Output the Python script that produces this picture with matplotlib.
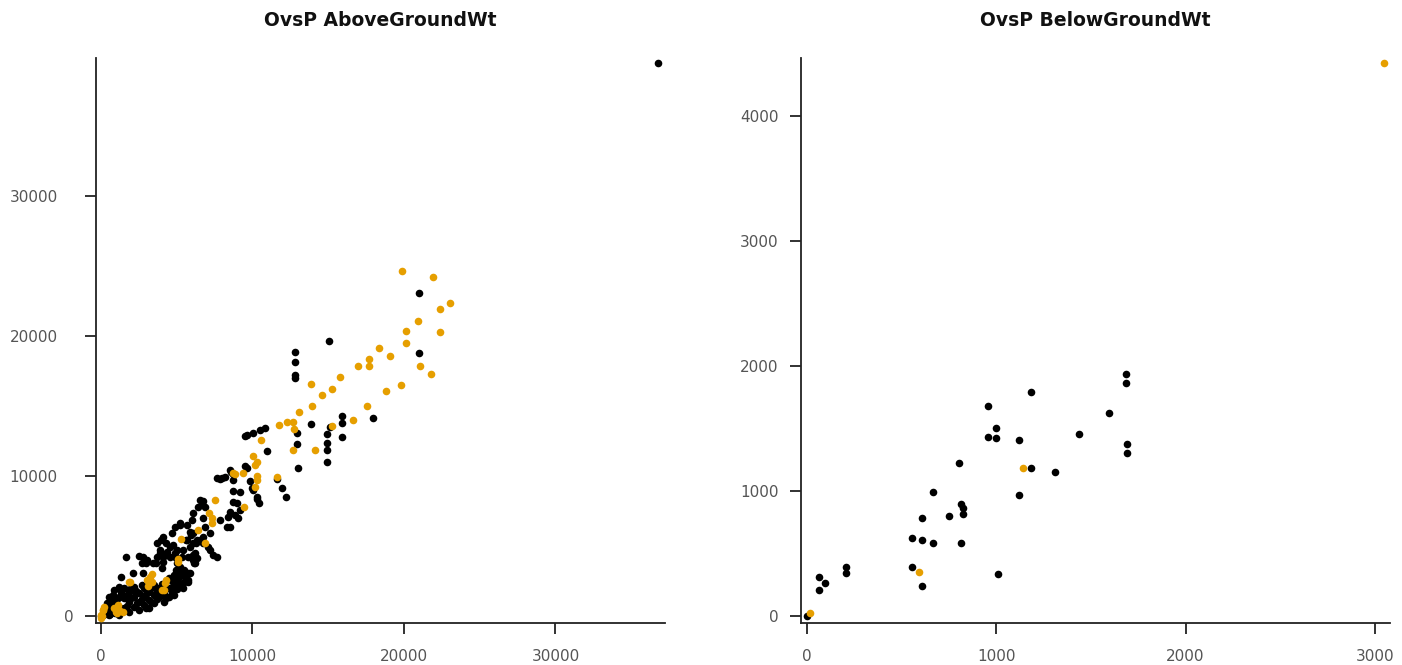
import matplotlib
matplotlib.use("Agg")
import matplotlib.pyplot as plt
from matplotlib.transforms import ScaledTranslation

# ---------------- data ----------------
# Left panel: OvsP AboveGroundWt
above_black_x = [36760, 21010, 15070, 12826, 12826, 12826, 12826, 21010, 17972, 15906, 15906,
                 13880, 12914, 12914, 13022, 14936, 14936, 14936, 14936, 15114, 10976, 9616,
                 10052, 10494, 10824, 9504, 11926, 12210, 11596, 8514, 8732, 10052, 10274,
                 7854, 8184, 8560, 8732, 9504, 9834, 9946, 8692, 9174, 6534, 6752, 8732,
                 10274, 10450, 9616, 6646, 6864, 6424, 8514, 8844, 8404, 7854, 8294, 8514,
                 9174, 9062, 6094, 5986, 5700, 5214, 6752, 6864, 6752, 6094, 6314, 5874,
                 5436, 4554, 4336, 3894, 3674, 4114, 4994, 4884, 5326, 5766, 6204, 6314,
                 7194, 7634, 7414, 1650, 1320, 2528, 2092, 3960, 4290, 4732, 5610, 5940,
                 6270, 6712, 6160, 6050, 5722, 5722, 3630, 4070, 2970, 2752, 4950, 4730,
                 5170, 5390, 5874, 5766, 6094, 6204, 5214, 7634, 7964, 8954, 6534, 7194,
                 7084, 6094, 5874, 5654, 4884, 4664, 4114, 3674, 3894, 2792, 3014, 2686,
                 2132, 3454, 4004, 4994, 5214, 4554, 4884, 15906,
                 550, 550, 550, 880, 880, 880, 1210, 1210, 1210, 1210, 1540, 1540, 1540,
                 1870, 1870, 1870, 2200, 2200, 2200, 2530, 2530, 2530, 2860, 2860, 2860,
                 3190, 3190, 3190, 3520, 3520, 3520, 3850, 3850, 4180, 4180, 4510, 4510,
                 4510, 4840, 4840, 4840, 5170, 5170, 5500, 5500, 0, 150, 300,
                 700, 1000, 1300, 1400, 1700, 1700, 2000, 2000, 2300, 2400, 2700, 2700,
                 3000, 3000, 3300, 3300, 3700, 3700, 4000, 4000, 4300, 4300, 4700, 4700,
                 5000, 5000, 5300, 5300, 5600, 800, 1100, 400, 300, 600, 900, 1200]
above_black_y = [39500, 23093, 19664, 18879, 18143, 17214, 17000, 18764, 14121, 13807, 12807,
                 13693, 13050, 12264, 10593, 13021, 12336, 11857, 11021, 13521, 11807, 12907,
                 13050, 13286, 13450, 12857, 9164, 8521, 9764, 10429, 9714, 9000, 8521,
                 9786, 9907, 10307, 10143, 10714, 9643, 9121, 8950, 8879, 8286, 8236, 8164,
                 8336, 8050, 10550, 8164, 7807, 7807, 7450, 7214, 7093, 6857, 6379, 6379,
                 7571, 6979, 7336, 6857, 6500, 6621, 6979, 6379, 5664, 5907, 5429, 4950,
                 4714, 4950, 4593, 4714, 4236, 4236, 4714, 4236, 4236, 4236, 4479, 4121,
                 4714, 4236, 4357, 4236, 2807, 4286, 1857, 5429, 5193, 5071, 5429, 5786,
                 5193, 5193, 3764, 4000, 3050, 2571, 3764, 3879, 3764, 3050, 3286, 2807,
                 2336, 1979, 3050, 2450, 4357, 3764, 6500, 9836, 9836, 8050, 5429, 5907,
                 4950, 5193, 6021, 5429, 6379, 5907, 5664, 5193, 4479, 4236, 4000, 3764,
                 3050, 3764, 3407, 3764, 3521, 4236, 4479, 14300,
                 1381, 666, 71, 1857, 1143, 428, 2093, 1381, 666, 71, 1976, 1262, 547,
                 1738, 1024, 309, 2093, 1381, 666, 1619, 1024, 428, 1976, 1381, 785,
                 1738, 1143, 547, 2214, 1500, 904, 1976, 1381, 1619, 1024, 2690, 1976,
                 1381, 2928, 2214, 1500, 2809, 2093, 3285, 2452, 0, 100, 200,
                 1000, 800, 1700, 400, 1500, 700, 2000, 1300, 1800, 900, 1200, 2200,
                 1600, 600, 2000, 1000, 1800, 1200, 2300, 1500, 2000, 1300, 2500, 1700,
                 2400, 1900, 3000, 2300, 2700, 1500, 1300, 900, 300, 150, 250, 300]

above_orange_x = [19866, 21890, 23034, 22374, 20900, 20130, 22394, 20130, 18326, 17668, 17668,
                  16942, 19074, 21034, 21760, 15754, 15246, 14606, 13860, 13946, 19800, 18790,
                  17536, 16610, 15226, 13088, 11728, 12298, 12694, 12738, 10540, 12694, 14124,
                  10012, 10318, 9392, 10318, 10318, 10164, 11596, 8732, 8844, 7524, 9458,
                  10164, 7150, 7304, 7304, 6424, 5260, 6864, 5104, 5062, 3254, 3082, 4290,
                  4246, 4180, 1868, 1102, 878, 990, 1208, 112, 0, 0, 218, 1432, 3344, 3014,
                  3344, 4004, 1914, 1036, 152, 40]
above_orange_y = [24620, 24240, 22336, 21907, 21071, 20336, 20265, 19500, 19167, 18379, 17834,
                  17857, 18593, 17880, 17260, 17071, 16193, 15807, 16593, 15000, 16521, 16093,
                  15000, 14021, 13593, 14593, 13621, 13879, 13836, 13336, 12571, 11836, 11879,
                  11429, 11000, 10193, 10000, 9714, 9193, 9950, 10193, 10143, 8286, 7764,
                  10786, 7379, 6979, 6621, 6143, 5479, 5193, 4050, 3879, 2807, 2143, 2571,
                  2336, 1857, 2450, 786, 550, 307, 429, 429, 71, -164, 664, 307, 3000, 2571,
                  2450, 1857, 2450, 193, 429, 0]

# Right panel: OvsP BelowGroundWt
below_black_x = [1684, 1684, 1183, 1594, 955, 1000, 955, 1000, 1118, 1437, 1690, 1690, 1183,
                 1312, 803, 1118, 667, 608, 750, 814, 822, 822, 553, 608, 667, 814, 553, 608,
                 1011, 62, 97, 62, 204, 204, 0]
below_black_y = [1938, 1866, 1795, 1621, 1683, 1504, 1430, 1424, 1405, 1456, 1376, 1304, 1181,
                 1149, 1221, 965, 989, 787, 797, 899, 864, 816, 627, 608, 584, 584, 395, 240,
                 339, 315, 267, 211, 395, 341, 0]
below_orange_x = [3048, 1143, 592, 16]
below_orange_y = [4424, 1187, 352, 27]

titles = ["OvsP AboveGroundWt", "OvsP BelowGroundWt"]
above_ticks = [0, 10000, 20000, 30000]
below_xticks = [0, 1000, 2000, 3000]
below_yticks = [0, 1000, 2000, 3000, 4000]

BLACK = "#000000"
ORANGE = "#E69F00"

fig = plt.figure(figsize=(14.02, 6.65), dpi=100)
ax1 = fig.add_axes([96 / 1402, 42 / 665, 569 / 1402, 565 / 665])
ax2 = fig.add_axes([801 / 1402, 42 / 665, 589 / 1402, 565 / 665])

def style(ax, title):
    for side in ("top", "right"):
        ax.spines[side].set_visible(False)
    for side in ("left", "bottom"):
        ax.spines[side].set_linewidth(1.3)
        ax.spines[side].set_color("#222222")
    ax.tick_params(axis="both", length=8, width=1.3, color="#222222",
                   labelsize=11, labelcolor="#555555")
    ax.tick_params(axis="y", pad=8)
    ax.tick_params(axis="x", pad=11)
    ax.set_title(title, fontsize=13.5, fontweight="bold", pad=23, color="#111111")

ms = 30
ax1.scatter(above_black_x, above_black_y, s=ms, c=BLACK, linewidths=0, zorder=2)
ax1.scatter(above_orange_x, above_orange_y, s=ms, c=ORANGE, linewidths=0, zorder=3)
ax1.set_xlim(-330, 37230)
ax1.set_ylim(-500, 39860)
ax1.set_xticks(above_ticks)
ax1.set_yticks(above_ticks)
style(ax1, titles[0])

ax2.scatter(below_black_x, below_black_y, s=ms, c=BLACK, linewidths=0, zorder=2)
ax2.scatter(below_orange_x, below_orange_y, s=ms, c=ORANGE, linewidths=0, zorder=3)
ax2.set_xlim(-32, 3080)
ax2.set_ylim(-56, 4464)
ax2.set_xticks(below_xticks)
ax2.set_yticks(below_yticks)
style(ax2, titles[1])

# the reference shifts the five-digit y labels of the left panel further left
fig.canvas.draw()
for lab, v in zip(ax1.get_yticklabels(), above_ticks):
    if v >= 10000:
        lab.set_transform(lab.get_transform() + ScaledTranslation(-0.16, 0, fig.dpi_scale_trans))

fig.savefig("out.png", dpi=100)
